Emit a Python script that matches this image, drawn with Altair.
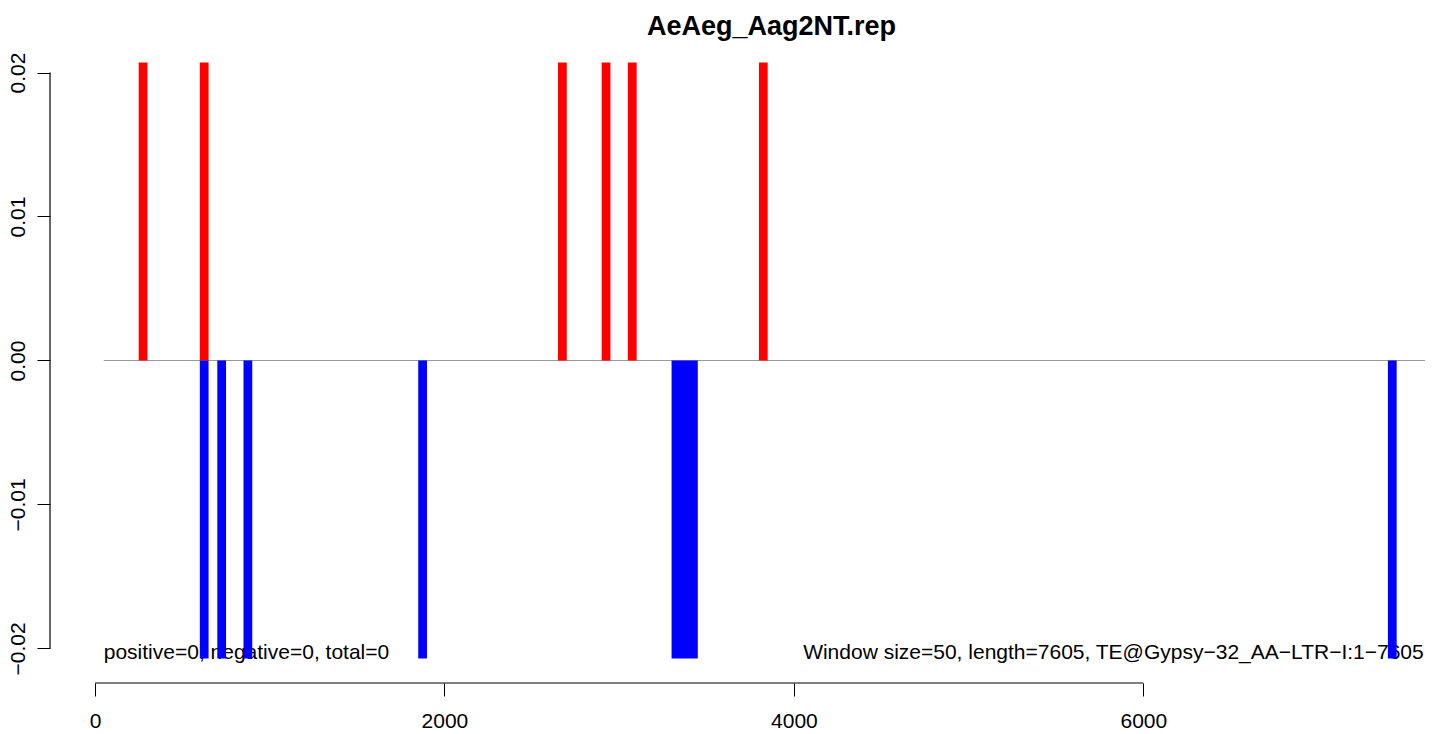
import altair as alt
import pandas as pd

title_text = "AeAeg_Aag2NT.rep"
window_size = 50
seq_length = 7605

pos_starts = [250, 600, 2650, 2900, 3050, 3800]
pos_values = [0.0207, 0.0207, 0.0207, 0.0207, 0.0207, 0.0207]
neg_starts = [600, 700, 850, 1850, 3300, 3350, 3400, 7400]
neg_values = [-0.0207, -0.0207, -0.0207, -0.0207, -0.0207, -0.0207, -0.0207, -0.0207]

x_ticks = [0, 2000, 4000, 6000]
y_ticks = [-0.02, -0.01, 0.0, 0.01, 0.02]

left_note = "positive=0, negative=0, total=0"
right_note = "Window size=50, length=7605, TE@Gypsy\u221232_AA\u2212LTR\u2212I:1\u22127605"
note_x = [50, seq_length]

FONT = "Liberation Sans"
PLOT_W = 1375
PLOT_H = 643


def merge_windows(starts, values, strand):
    """Join adjacent windows of equal height into one rectangle."""
    rows = []
    for s, v in sorted(zip(starts, values)):
        if rows and rows[-1]["end"] == s and rows[-1]["value"] == v:
            rows[-1]["end"] = s + window_size
        else:
            rows.append({"start": s, "end": s + window_size, "value": v, "strand": strand})
    return rows


bars = pd.DataFrame(merge_windows(pos_starts, pos_values, "pos") + merge_windows(neg_starts, neg_values, "neg"))
notes = pd.DataFrame(
    {"x": note_x, "y": [min(neg_values)] * 2, "label": [left_note, right_note]}
)

x_scale = alt.Scale(domain=[-257.6, 7612.2], nice=False, zero=False)
y_scale = alt.Scale(domain=[-0.022396, 0.022257], nice=False, zero=False)

x_axis = alt.Axis(
    values=x_ticks, format="d", domain=False, grid=False, tickSize=13, tickColor="black",
    tickWidth=1, labelFont=FONT, labelFontSize=21, labelColor="black", labelPadding=14,
    title=None, labelFlush=False, labelOverlap=False, labelBound=False,
)
y_axis = alt.Axis(
    values=y_ticks, format=".2f", domain=False, grid=False, tickSize=13, tickColor="black",
    tickWidth=1, labelFont=FONT, labelFontSize=21, labelColor="black", labelPadding=13,
    labelAngle=270, labelAlign="center", labelBaseline="alphabetic",
    title=None, labelFlush=False, labelOverlap=False, labelBound=False,
)

zero_line = (
    alt.Chart(pd.DataFrame({"x": [50], "x2": [7700], "y": [0.0]}))
    .mark_rule(color="#999999", strokeWidth=1.2, clip=True)
    .encode(
        x=alt.X("x:Q", scale=x_scale, axis=x_axis),
        x2="x2:Q",
        y=alt.Y("y:Q", scale=y_scale, axis=y_axis),
    )
)

x_axis_line = (
    alt.Chart(pd.DataFrame({"x": [x_ticks[0]], "x2": [x_ticks[-1]]}))
    .mark_rule(color="black", strokeWidth=1.2)
    .encode(x=alt.X("x:Q", scale=x_scale, axis=x_axis), x2="x2:Q", y=alt.value(PLOT_H))
)

y_axis_line = (
    alt.Chart(pd.DataFrame({"y": [y_ticks[0]], "y2": [y_ticks[-1]]}))
    .mark_rule(color="black", strokeWidth=1.2)
    .encode(y=alt.Y("y:Q", scale=y_scale, axis=y_axis), y2="y2:Q", x=alt.value(0))
)

left_text = (
    alt.Chart(notes.iloc[[0]])
    .mark_text(align="left", baseline="alphabetic", font=FONT, fontSize=21, color="black")
    .encode(x=alt.X("x:Q", scale=x_scale, axis=x_axis), y=alt.Y("y:Q", scale=y_scale, axis=y_axis), text="label:N")
)
right_text = (
    alt.Chart(notes.iloc[[1]])
    .mark_text(align="right", baseline="alphabetic", font=FONT, fontSize=21, color="black")
    .encode(x=alt.X("x:Q", scale=x_scale, axis=x_axis), y=alt.Y("y:Q", scale=y_scale, axis=y_axis), text="label:N")
)

bar_layer = (
    alt.Chart(bars)
    .mark_rect()
    .encode(
        x=alt.X("start:Q", scale=x_scale, axis=x_axis),
        x2="end:Q",
        y=alt.Y("value:Q", scale=y_scale, axis=y_axis),
        y2=alt.datum(0),
        color=alt.Color("strand:N", scale=alt.Scale(domain=["pos", "neg"], range=["#FF0000", "#0000FF"]), legend=None),
    )
)

chart = (
    alt.layer(zero_line, x_axis_line, y_axis_line, left_text, right_text, bar_layer)
    .properties(
        width=PLOT_W,
        height=PLOT_H,
        autosize=alt.AutoSizeParams(type="none"),
        padding={"left": 42, "top": 32, "right": 0, "bottom": 51},
        title=alt.Title(
            title_text, font=FONT, fontSize=27, fontWeight="bold", color="black",
            anchor="middle", dx=34, dy=25, baseline="alphabetic", offset=3,
        ),
        background="white",
    )
    .configure_view(stroke=None)
)

chart.save("out.html", embed_options={"renderer": "svg", "actions": False})
